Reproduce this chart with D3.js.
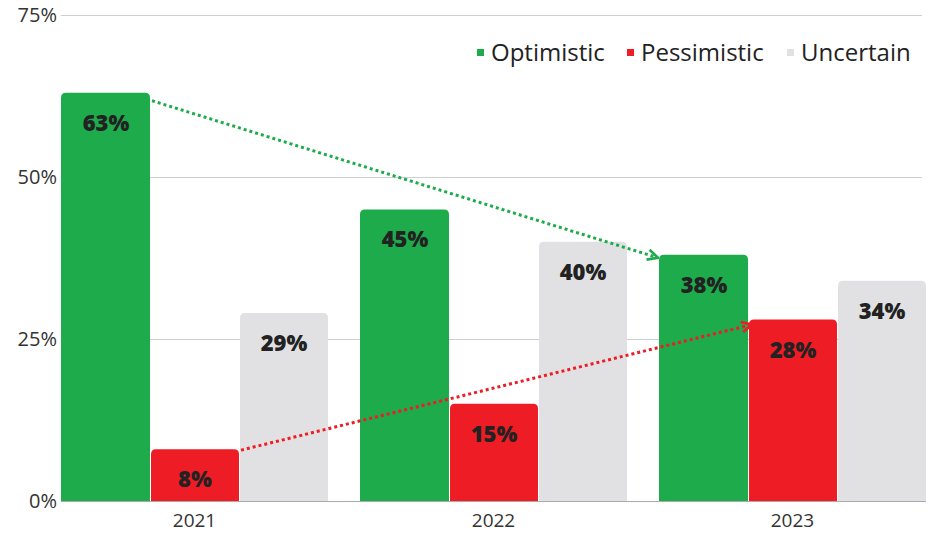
<!DOCTYPE html>
<html><head><meta charset="utf-8">
<script src="https://cdn.jsdelivr.net/npm/d3@7"></script>
<style>body{margin:0;background:#fff}svg{display:block}</style>
</head><body><svg id="c" width="933" height="533"></svg>
<script>
const years = ["2021","2022","2023"];
const seriesNames = ["Optimistic","Pessimistic","Uncertain"];
const optimistic = [63,45,38];
const pessimistic = [8,15,28];
const uncertain = [29,40,34];
const yTicks = [0,25,50,75];
const colors = ["#1EAB4C","#EE1C25","#E1E1E3"];

const values = [optimistic, pessimistic, uncertain];
const svg = d3.select("#c");
const x0 = d3.scaleBand().domain(years).range([61,926]).paddingInner(0.107).paddingOuter(0);
const x1 = d3.scaleBand().domain(seriesNames).range([0,x0.bandwidth()]).padding(0);
const y = d3.scaleLinear().domain([0,75]).range([501,15]);

// gridlines
svg.append("g").selectAll("line").data(yTicks.filter(d=>d>0)).join("line")
  .attr("x1",61).attr("x2",922).attr("y1",d=>y(d)+0.5).attr("y2",d=>y(d)+0.5)
  .attr("stroke","#cfcfcf").attr("stroke-width",1);
// y labels
svg.append("g").selectAll("text").data(yTicks).join("text")
  .attr("x",57).attr("y",d=>y(d)).attr("dy","0.35em").attr("text-anchor","end")
  .attr("font-family","Open Sans").attr("font-size",20).attr("fill","#333")
  .text(d=>d+"%");

function roundTop(x,yy,w,h,r){
  r=Math.min(r,h);
  return `M${x},${yy+h}V${yy+r}Q${x},${yy} ${x+r},${yy}H${x+w-r}Q${x+w},${yy} ${x+w},${yy+r}V${yy+h}Z`;
}
const bars=[];
years.forEach((yr,i)=>seriesNames.forEach((s,j)=>bars.push({yr,s,j,v:values[j][i]})));
const g = svg.append("g");
g.selectAll("path").data(bars).join("path")
  .attr("d",d=>roundTop(x0(d.yr)+x1(d.s)+ (d.j>0?1:0), y(d.v), x1.bandwidth()-(d.j>0?1:0), y(0)-y(d.v), 5))
  .attr("fill",d=>colors[d.j]);
g.selectAll("text").data(bars).join("text")
  .attr("x",d=>x0(d.yr)+x1(d.s)+x1.bandwidth()/2+0.5).attr("y",d=>y(d.v)+38)
  .attr("text-anchor","middle").attr("font-family","Open Sans").attr("font-weight",800)
  .attr("font-size",22).attr("fill","#222").text(d=>d.v+"%");

// bottom axis
svg.append("line").attr("x1",61).attr("x2",926).attr("y1",501.5).attr("y2",501.5).attr("stroke","#aaa");
svg.append("g").selectAll("text").data(years).join("text")
  .attr("x",d=>x0(d)+x0.bandwidth()/2).attr("y",527).attr("text-anchor","middle")
  .attr("font-family","Open Sans").attr("font-size",19).attr("fill","#333").text(d=>d);

// arrows
const defs=svg.append("defs");
[["ag",colors[0]],["ar",colors[1]]].forEach(([id,c])=>{
  defs.append("marker").attr("id",id).attr("viewBox","0 0 10 10").attr("refX",9).attr("refY",5)
   .attr("orient","auto").attr("markerUnits","userSpaceOnUse")
   .attr("markerWidth",13).attr("markerHeight",13)
   .append("path").attr("d","M1,1L9,5L1,9").attr("fill","none").attr("stroke",c).attr("stroke-width",2);
});
const gx = (yr,s)=>x0(yr)+x1(s);
const arrows=[
  {x1:gx("2021","Optimistic")+x1.bandwidth()+2,y1:y(optimistic[0])+8,x2:gx("2023","Optimistic")-1,y2:y(optimistic[2])+3,c:colors[0],m:"ag"},
  {x1:gx("2021","Pessimistic")+x1.bandwidth()+2,y1:y(pessimistic[0])+1,x2:gx("2023","Pessimistic")+4,y2:y(pessimistic[2])+5,c:colors[1],m:"ar"}
];
svg.append("g").selectAll("line").data(arrows).join("line")
  .attr("x1",d=>d.x1).attr("y1",d=>d.y1).attr("x2",d=>d.x2).attr("y2",d=>d.y2)
  .attr("stroke",d=>d.c).attr("stroke-width",3).attr("stroke-dasharray","3,3")
  .attr("marker-end",d=>`url(#${d.m})`);

// legend
const legX=[477,627,787];
const leg=svg.append("g").selectAll("g").data(seriesNames).join("g")
  .attr("transform",(d,i)=>`translate(${legX[i]},53)`);
leg.append("rect").attr("x",0).attr("y",-4).attr("width",7).attr("height",7).attr("fill",(d,i)=>colors[i]);
leg.append("text").attr("x",14).attr("dy","0.35em").attr("font-family","Open Sans").attr("font-size",24)
  .attr("fill","#222").text(d=>d);
</script></body></html>
